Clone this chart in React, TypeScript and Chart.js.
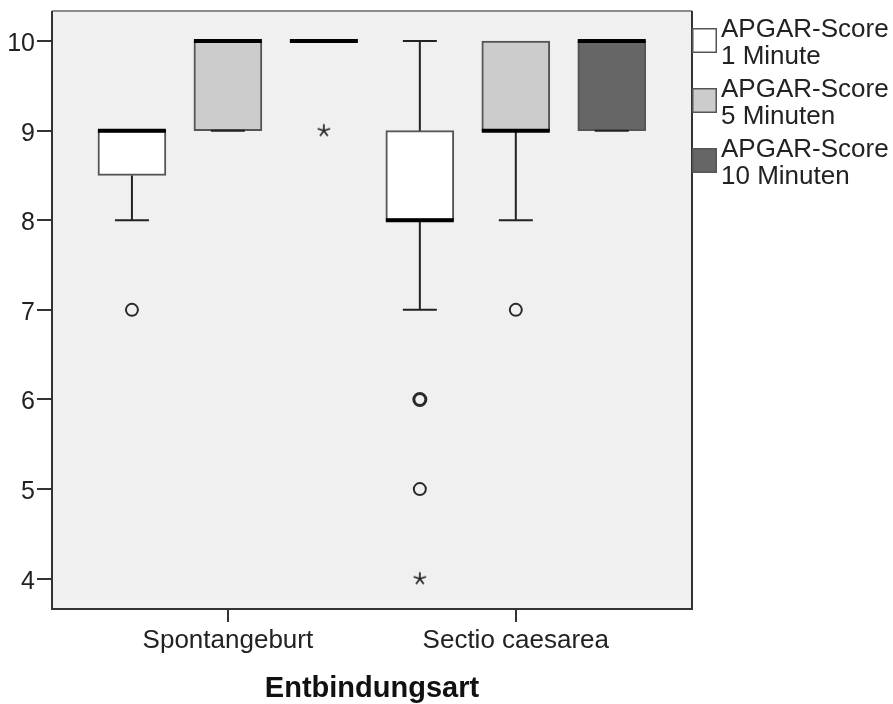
import { useEffect, useRef } from 'react';
import { Chart, registerables } from 'chart.js';

Chart.register(...registerables);

// ---- data ----
const categories = ['Spontangeburt', 'Sectio caesarea'];
const seriesLabels = [
  ['APGAR-Score', '1 Minute'],
  ['APGAR-Score', '5 Minuten'],
  ['APGAR-Score', '10 Minuten'],
];
// rows = series (1, 5, 10 Minuten), columns = categories
const lowerWhisker = [[8, 7], [9, 8], [10, 9]];
const quartile1 = [[8.5, 8], [9, 9], [10, 9]];
const medians = [[9, 8], [10, 9], [10, 10]];
const quartile3 = [[9, 9], [10, 10], [10, 10]];
const upperWhisker = [[9, 10], [10, 10], [10, 10]];

// outliers (circles)
const outlierSeries = [0, 0, 0, 1];
const outlierCategory = [0, 1, 1, 1];
const outlierValue = [7, 6, 5, 7];
const outlierCount = [1, 2, 1, 1];

// extremes (stars)
const extremeSeries = [2, 0];
const extremeCategory = [0, 1];
const extremeValue = [9, 4];

const yTickValues = [4, 5, 6, 7, 8, 9, 10];

// ---- style ----
const seriesColors = ['#ffffff', '#cccccc', '#666666'];
const GROUP = 1 / 3;
const BOX_W = 68;
const FONT = "'Liberation Sans', Arial, sans-serif";

const xPos = (s: number, c: number) => c + (s - 1) * GROUP;

function makeStar(): HTMLCanvasElement {
  const cv = document.createElement('canvas');
  cv.width = 16;
  cv.height = 16;
  const g = cv.getContext('2d')!;
  g.strokeStyle = '#222';
  g.lineWidth = 1.7;
  g.beginPath();
  for (let k = 0; k < 5; k++) {
    const a = (-90 + k * 72) * Math.PI / 180;
    g.moveTo(8, 8);
    g.lineTo(8 + 6.5 * Math.cos(a), 8 + 6.5 * Math.sin(a));
  }
  g.stroke();
  return cv;
}

const bgPlugin = {
  id: 'bg',
  beforeDraw(chart: any) {
    const { ctx, chartArea: a } = chart;
    ctx.save();
    ctx.fillStyle = '#f0f0f0';
    ctx.fillRect(a.left, a.top, a.right - a.left, a.bottom - a.top);
    ctx.restore();
  },
  afterDraw(chart: any) {
    const { ctx, chartArea: a } = chart;
    ctx.save();
    ctx.lineWidth = 2;
    ctx.strokeStyle = '#8c8c8c';
    ctx.beginPath();
    ctx.moveTo(a.left, a.top);
    ctx.lineTo(a.right, a.top);
    ctx.stroke();
    ctx.strokeStyle = '#333';
    ctx.beginPath();
    ctx.moveTo(a.left, a.top);
    ctx.lineTo(a.left, a.bottom);
    ctx.lineTo(a.right, a.bottom);
    ctx.lineTo(a.right, a.top);
    ctx.stroke();

    // legend
    seriesLabels.forEach((lines, s) => {
      const top = a.top + 17 + s * 60;
      ctx.fillStyle = seriesColors[s];
      ctx.fillRect(a.right, top, 24, 25);
      ctx.strokeStyle = '#555';
      ctx.lineWidth = 1.5;
      ctx.strokeRect(a.right + 0.75, top + 0.75, 23.5, 23.5);
      ctx.fillStyle = '#222';
      ctx.font = `26px ${FONT}`;
      ctx.textBaseline = 'alphabetic';
      ctx.textAlign = 'left';
      lines.forEach((t, i) => {
        ctx.fillText(t, a.right + 29, top + 9 + 27 * i);
      });
    });
    ctx.restore();
  },
};

const boxPlugin = {
  id: 'boxes',
  afterDatasetsDraw(chart: any) {
    const { ctx } = chart;
    const x = chart.scales.x;
    const y = chart.scales.y;
    ctx.save();
    for (let s = 0; s < seriesLabels.length; s++) {
      for (let c = 0; c < categories.length; c++) {
        const cx = x.getPixelForValue(xPos(s, c));
        const q1 = y.getPixelForValue(quartile1[s][c]);
        const q3 = y.getPixelForValue(quartile3[s][c]);
        const lo = y.getPixelForValue(lowerWhisker[s][c]);
        const hi = y.getPixelForValue(upperWhisker[s][c]);
        const md = y.getPixelForValue(medians[s][c]);
        ctx.strokeStyle = '#222';
        ctx.lineWidth = 2;
        ctx.beginPath();
        if (upperWhisker[s][c] > quartile3[s][c]) {
          ctx.moveTo(cx, q3);
          ctx.lineTo(cx, hi);
          ctx.moveTo(cx - BOX_W / 4, hi);
          ctx.lineTo(cx + BOX_W / 4, hi);
        }
        if (lowerWhisker[s][c] < quartile1[s][c]) {
          ctx.moveTo(cx, q1);
          ctx.lineTo(cx, lo);
        }
        ctx.moveTo(cx - BOX_W / 4, lo);
        ctx.lineTo(cx + BOX_W / 4, lo);
        ctx.stroke();
        ctx.strokeStyle = '#000';
        ctx.lineWidth = 4;
        ctx.beginPath();
        ctx.moveTo(cx - BOX_W / 2, md);
        ctx.lineTo(cx + BOX_W / 2, md);
        ctx.stroke();
      }
    }
    ctx.restore();
  },
};

export default function App() {
  const ref = useRef<HTMLCanvasElement>(null);
  useEffect(() => {
    const star = makeStar();
    const barSets = seriesLabels.map((lines, s) => ({
      type: 'bar' as const,
      label: lines.join(' '),
      data: categories.map((_, c) => ({ x: xPos(s, c), y: [quartile1[s][c], quartile3[s][c]] })),
      backgroundColor: seriesColors[s],
      borderColor: '#555',
      borderWidth: 2,
      borderSkipped: false,
      barThickness: BOX_W,
      grouped: false,
    }));
    const outliers = {
      type: 'scatter' as const,
      label: 'Ausreißer',
      data: outlierValue.map((v, i) => ({ x: xPos(outlierSeries[i], outlierCategory[i]), y: v })),
      pointStyle: 'circle',
      pointRadius: 6,
      pointBorderWidth: outlierCount.map((n) => (n > 1 ? 3 : 2)),
      pointBorderColor: '#2a2a2a',
      pointBackgroundColor: 'rgba(0,0,0,0)',
    };
    const extremes = {
      type: 'scatter' as const,
      label: 'Extremwerte',
      data: extremeValue.map((v, i) => ({ x: xPos(extremeSeries[i], extremeCategory[i]), y: v })),
      pointStyle: star,
      pointRadius: 7,
    };
    const chart = new Chart(ref.current!, {
      type: 'bar',
      data: { datasets: [...barSets, outliers, extremes] as any },
      options: {
        animation: false,
        responsive: true,
        maintainAspectRatio: false,
        layout: { padding: { top: 11, right: 201, left: 0, bottom: 0 } },
        plugins: { legend: { display: false }, tooltip: { enabled: false } },
        scales: {
          x: {
            type: 'linear',
            min: -0.611,
            max: 1.612,
            offset: false,
            grid: { offset: false, drawOnChartArea: false, drawTicks: true, tickLength: 13, color: '#333', lineWidth: 2 },
            border: { display: false },
            afterBuildTicks: (sc: any) => {
              sc.ticks = categories.map((_, i) => ({ value: i }));
            },
            afterFit: (sc: any) => {
              sc.height = 95;
              sc.paddingLeft = 0;
              sc.paddingRight = 0;
            },
            ticks: {
              callback: (v: any) => categories[v as number] ?? '',
              font: { family: FONT, size: 26 },
              color: '#222',
              padding: 3,
              maxRotation: 0,
              autoSkip: false,
            },
            title: {
              display: true,
              text: 'Entbindungsart',
              font: { family: FONT, size: 29, weight: 'bold' },
              color: '#111',
              padding: { top: 0, bottom: -2 },
            },
          },
          y: {
            type: 'linear',
            min: 3.662,
            max: 10.335,
            grid: { drawOnChartArea: false, drawTicks: true, tickLength: 15, color: '#333', lineWidth: 2 },
            border: { display: false },
            afterBuildTicks: (sc: any) => {
              sc.ticks = yTickValues.map((v) => ({ value: v }));
            },
            afterFit: (sc: any) => {
              sc.width = 52;
              sc.paddingTop = 0;
              sc.paddingBottom = 0;
            },
            ticks: {
              font: { family: FONT, size: 25 },
              color: '#222',
              padding: 2,
              labelOffset: 3,
            },
          },
        },
      },
      plugins: [bgPlugin, boxPlugin],
    });
    return () => chart.destroy();
  }, []);
  return (
    <div style={{ position: 'absolute', left: 0, top: 0, width: 893, height: 704 }}>
      <canvas ref={ref} />
    </div>
  );
}
